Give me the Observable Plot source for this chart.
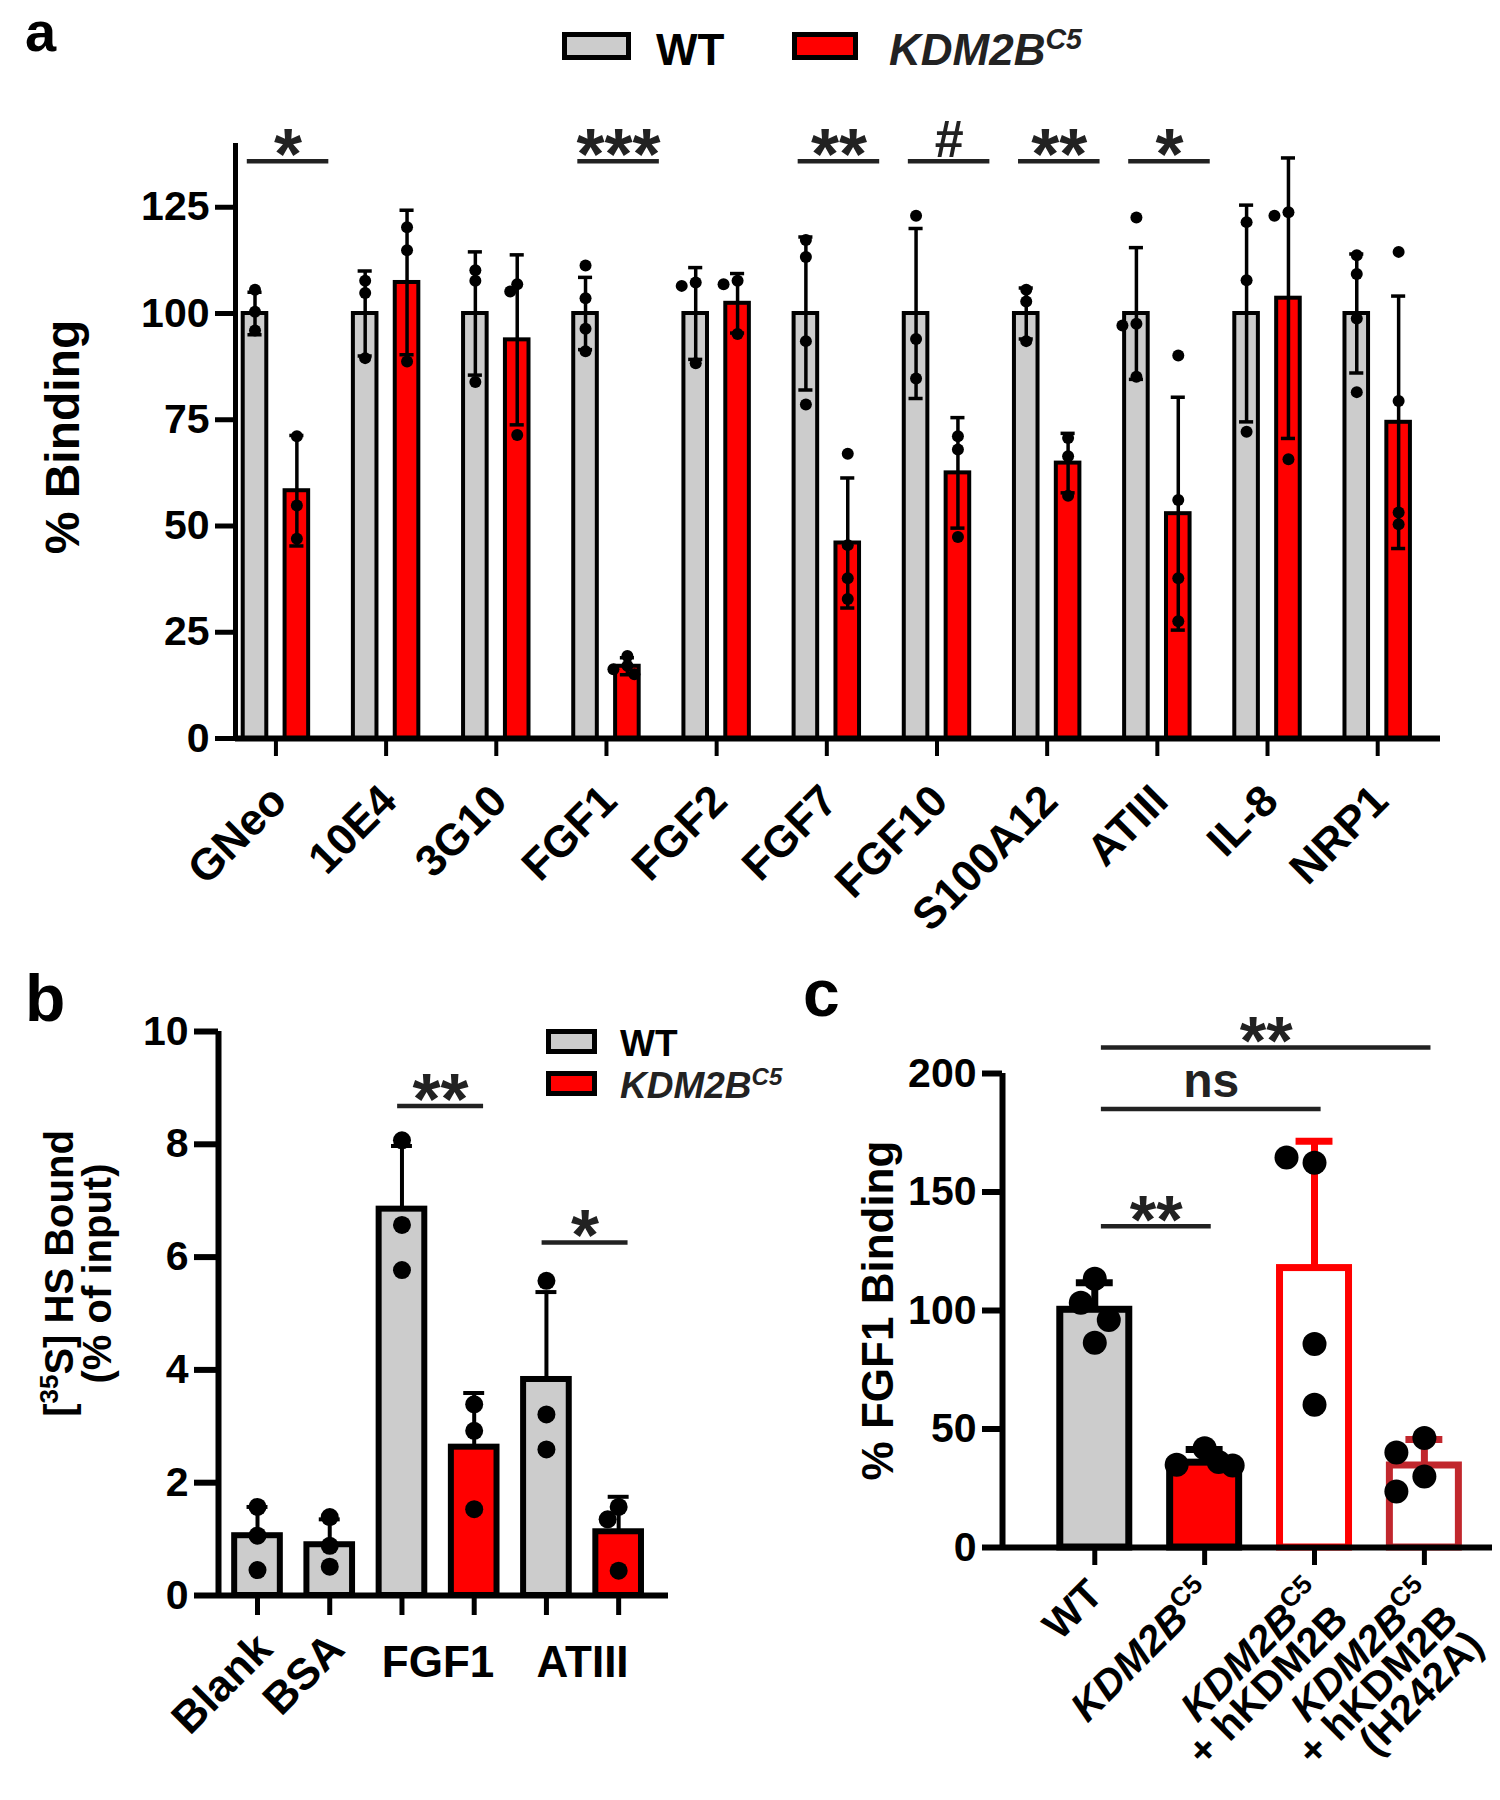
<!DOCTYPE html>
<html><head><meta charset="utf-8">
<script src="https://cdn.jsdelivr.net/npm/d3@7"></script>
<script src="https://cdn.jsdelivr.net/npm/@observablehq/plot@0.6"></script>
<style>
body{margin:0;background:#fff;}
#fig{position:relative;width:1500px;height:1800px;font-family:"Liberation Sans",Arial,Helvetica,sans-serif;font-weight:bold;color:#000;overflow:hidden;}
.abs{position:absolute;white-space:nowrap;}
.box{position:absolute;border:5px solid #000;}
sup{font-size:65%;vertical-align:0.55em;line-height:0;}
</style></head><body><div id="fig"></div>
<script>
// ---------------- DATA ----------------
// Panel a
const catsA = ["GNeo","10E4","3G10","FGF1","FGF2","FGF7","FGF10","S100A12","ATIII","IL-8","NRP1"];
const wtMeanA = [100,100,100,100,100,100,100,100,100,100,100];
const wtSdA   = [5,10,14.5,8.5,10.8,18,20,6,15.5,25.5,14];
const kdMeanA = [58.3,107.3,93.8,17,102.4,46,62.5,64.8,52.9,103.6,74.4];
const kdSdA   = [13,17,20,2,7,15.3,13,7,27.4,33,29.7];
const wtPtsA = [[105.6,100.4,96],[107.7,104.8,89.5],[110.2,107.7,83.9],[111.3,103.6,96.4,91.1],[107.3,106.5,88.3],
  [117.3,113.3,93.5,78.6],[123,94,84.7],[105.6,102.8,93.5],[122.6,97.6,97.2,85.1],[121.5,107.8,72.2],[113.7,109.3,98.8,81.5]];
const kdPtsA = [[71.1,54.8,47],[120.3,114.9,88.7],[106.9,105.2,71.4],[19.4,17.1,16.3,15.1],[107.7,106.9,95.2],
  [67,45.5,37.7,32.8],[71.1,68,47.4],[70.7,66.4,57.1],[90.1,56.1,37.7,27.6],[123.8,123,65.7],[114.5,79.4,53.2,50.4]];
const sigCatsA   = ["GNeo","FGF1","FGF7","FGF10","S100A12","ATIII"];
const sigLabelsA = ["*","***","**","#","**","*"];
const sigYA = 135.8;
const yTicksA = [0,25,50,75,100,125];

// Panel b
const barsB  = ["Blank","BSA","FGF1","FGF1","ATIII","ATIII"];
const groupB = ["WT","WT","WT","KDM2B","WT","KDM2B"];
const meanB  = [1.06,0.9,6.85,2.63,3.83,1.13];
const sdB    = [0.51,0.45,1.12,0.96,1.55,0.62];
const ptsB   = [[1.57,1.06,0.45],[1.39,0.88,0.51],[8.07,6.57,5.77],[3.39,2.92,1.53],[5.58,3.21,2.59],[1.57,1.35,0.44]];
const rotLabelsB  = ["Blank","BSA"];
const pairLabelsB = ["FGF1","ATIII"];
const sigFromB = [2,4], sigToB = [3,5], sigLabelB = ["**","*"], sigYB = [8.68,6.26];
const yTicksB = [0,2,4,6,8,10];

// Panel c
const groupsC = ["WT","_{KDM2B}^{C5}","_{KDM2B}^{C5}\n+ hKDM2B","_{KDM2B}^{C5}\n+ hKDM2B\n(H242A)"];
const meanC = [100.3,35.8,117.9,34.6];
const sdC   = [11.4,5.5,53.5,11];
const ptsC  = [[113.4,103.3,96,86.4],[41.9,34.9,34.6,36.1],[162.3,164.6,85.9,60.2],[46.2,40.1,30,23.6]];
const sigFromC = [0,0,0], sigToC = [1,2,3], sigLabelC = ["**","ns","**"], sigYC = [135.6,185,211];
const yTicksC = [0,50,100,150,200];

// palette
const GRAY = "#cccccc", RED = "#ff0000", DARKRED = "#c1272d";
const fillC = [GRAY, RED, "#ffffff", "#ffffff"];
const strokeC = ["#000000", "#000000", RED, DARKRED];

// ---------------- HELPERS ----------------
const FONT = '"Liberation Sans", Arial, Helvetica, sans-serif';
const fig = document.getElementById("fig");

function dodge(vals, py, r, step, k) {
  const placed = [], out = [];
  const cands = [0,-step,step,-2*step,2*step];
  vals.forEach(v => {
    const y = v * py;
    const minD = c => placed.length ? Math.min(...placed.map(p => Math.hypot(p.x - c, p.y - y))) : Infinity;
    let c0 = cands.find(c => minD(c) >= 2 * r * k);
    if (c0 === undefined) c0 = cands.reduce((a, b) => minD(b) > minD(a) ? b : a);
    placed.push({x: c0, y}); out.push(c0);
  });
  return out;
}
const NS = "http://www.w3.org/2000/svg";
function mk(s) { const t = document.createElementNS(NS, "tspan"); t.textContent = s; return t; }
function richify(svg) {
  const nodes = [...svg.querySelectorAll("text, tspan")].filter(n => n.children.length === 0 && /[\^_]\{/.test(n.textContent));
  for (const n of nodes) {
    const s = n.textContent; n.textContent = "";
    const re = /(\^\{[^}]*\}|_\{[^}]*\})/g; let last = 0, m;
    while ((m = re.exec(s))) {
      if (m.index > last) n.appendChild(mk(s.slice(last, m.index)));
      const t = mk(m[0].slice(2, -1));
      if (m[0][0] === "^") { t.setAttribute("baseline-shift", "super"); t.setAttribute("font-size", "65%"); }
      else t.setAttribute("font-style", "italic");
      n.appendChild(t); last = m.index + m[0].length;
    }
    if (last < s.length) n.appendChild(mk(s.slice(last)));
  }
}
function mount(el, left, top) { el.style.position = "absolute"; el.style.left = left + "px"; el.style.top = top + "px"; fig.appendChild(el); richify(el); }
const baseStyle = {fontFamily: FONT, fontWeight: "bold", background: "transparent", overflow: "visible", color: "#000"};

// ---------------- PANEL A ----------------
const A = {W:1500, H:950, ml:235, mr:60, mt:143, mb:212, x0:-0.367, x1:10.57, ymax:140};
const pxA = (A.W - A.ml - A.mr) / (A.x1 - A.x0), pyA = (A.H - A.mt - A.mb) / A.ymax;
const OFF_A = 0.19, HW_A = 0.107, CAP_A = 0.064;
const barsA = [];
catsA.forEach((c, i) => {
  barsA.push({i, x: i - OFF_A, mean: wtMeanA[i], sd: wtSdA[i], g: "WT", pts: wtPtsA[i]});
  barsA.push({i, x: i + OFF_A, mean: kdMeanA[i], sd: kdSdA[i], g: "KDM", pts: kdPtsA[i]});
});
const dotsA = [];
barsA.forEach(b => { const off = dodge(b.pts, pyA, 6, 7, 0.8); b.pts.forEach((v, k) => dotsA.push({x: b.x + off[k] / pxA, y: v})); });
const sigRowsA = sigCatsA.map((c, k) => ({i: catsA.indexOf(c), label: sigLabelsA[k], y: sigYA}));

const plotA = Plot.plot({
  width: A.W, height: A.H, marginLeft: A.ml, marginRight: A.mr, marginTop: A.mt, marginBottom: A.mb,
  x: {type: "linear", domain: [A.x0, A.x1]}, y: {domain: [0, A.ymax]},
  style: baseStyle,
  marks: [
    Plot.rectY(barsA.filter(d => d.g === "WT"), {x1: d => d.x - HW_A, x2: d => d.x + HW_A, y1: 0, y2: "mean", fill: GRAY, stroke: "#000", strokeWidth: 4}),
    Plot.rectY(barsA.filter(d => d.g === "KDM"), {x1: d => d.x - HW_A, x2: d => d.x + HW_A, y1: 0, y2: "mean", fill: RED, stroke: "#000", strokeWidth: 4}),
    Plot.ruleX(barsA, {x: "x", y1: d => d.mean - d.sd, y2: d => d.mean + d.sd, strokeWidth: 3.5}),
    Plot.ruleY(barsA, {y: d => d.mean + d.sd, x1: d => d.x - CAP_A, x2: d => d.x + CAP_A, strokeWidth: 3.5}),
    Plot.ruleY(barsA, {y: d => d.mean - d.sd, x1: d => d.x - CAP_A, x2: d => d.x + CAP_A, strokeWidth: 3.5}),
    Plot.dot(dotsA, {x: "x", y: "y", r: 6, fill: "#000", stroke: null}),
    Plot.ruleX([A.x0], {strokeWidth: 5}),
    Plot.ruleY([0], {strokeWidth: 6}),
    Plot.axisY({ticks: yTicksA, tickSize: 20, tickPadding: 6, strokeWidth: 5, fontSize: 41, label: null}),
    Plot.axisX({ticks: d3.range(catsA.length), tickSize: 18, strokeWidth: 4, tickFormat: () => "", label: null}),
    Plot.text(catsA, {x: (d, i) => i, y: 0, text: d => d, rotate: -45, textAnchor: "end", dx: 3, dy: 55, fontSize: 44}),
    Plot.text(["% Binding"], {frameAnchor: "left", textAnchor: "middle", rotate: -90, dx: -172, dy: -4, fontSize: 48}),
    Plot.ruleY(sigRowsA, {y: "y", x1: d => d.i - 0.26, x2: d => d.i + 0.48, strokeWidth: 4.5, stroke: "#222"}),
    Plot.text(sigRowsA.filter(d => d.label !== "#"), {x: d => d.i + 0.11, y: "y", text: "label", fontSize: 72, dy: -5, fill: "#222"}),
    Plot.text(sigRowsA.filter(d => d.label === "#"), {x: d => d.i + 0.11, y: "y", text: "label", fontSize: 52, dy: -21, fill: "#222"})
  ]
});
mount(plotA, 0, 0);

// ---------------- PANEL B ----------------
const B = {W:720, H:850, ml:218, mr:52, mt:81, mb:205, x0:-0.54, x1:5.69, ymax:10};
const pxB = (B.W - B.ml - B.mr) / (B.x1 - B.x0), pyB = (B.H - B.mt - B.mb) / B.ymax;
const HW_B = 0.316, CAP_B = 0.145;
const rowsB = barsB.map((c, i) => ({i, cat: c, g: groupB[i], mean: meanB[i], sd: sdB[i], pts: ptsB[i]}));
const dotsB = [];
rowsB.forEach(b => { const off = dodge(b.pts, pyB, 9, 11, 0.85); b.pts.forEach((v, k) => dotsB.push({x: b.i + off[k] / pxB, y: v})); });
const sigRowsB = sigLabelB.map((l, k) => ({x1: sigFromB[k] - 0.06, x2: sigToB[k] + 0.13, y: sigYB[k], label: l}));

const plotB = Plot.plot({
  width: B.W, height: B.H, marginLeft: B.ml, marginRight: B.mr, marginTop: B.mt, marginBottom: B.mb,
  x: {type: "linear", domain: [B.x0, B.x1]}, y: {domain: [0, B.ymax]},
  style: baseStyle,
  marks: [
    Plot.rectY(rowsB.filter(d => d.g === "WT"), {x1: d => d.i - HW_B, x2: d => d.i + HW_B, y1: 0, y2: "mean", fill: GRAY, stroke: "#000", strokeWidth: 6}),
    Plot.rectY(rowsB.filter(d => d.g !== "WT"), {x1: d => d.i - HW_B, x2: d => d.i + HW_B, y1: 0, y2: "mean", fill: RED, stroke: "#000", strokeWidth: 6}),
    Plot.ruleX(rowsB, {x: "i", y1: "mean", y2: d => d.mean + d.sd, strokeWidth: 4}),
    Plot.ruleY(rowsB, {y: d => d.mean + d.sd, x1: d => d.i - CAP_B, x2: d => d.i + CAP_B, strokeWidth: 4}),
    Plot.dot(dotsB, {x: "x", y: "y", r: 9, fill: "#000", stroke: null}),
    Plot.ruleX([B.x0], {strokeWidth: 6}),
    Plot.ruleY([0], {strokeWidth: 6}),
    Plot.axisY({ticks: yTicksB, tickSize: 24, tickPadding: 6, strokeWidth: 6, fontSize: 41, label: null}),
    Plot.axisX({ticks: d3.range(barsB.length), tickSize: 20, strokeWidth: 5, tickFormat: () => "", label: null}),
    Plot.text(rotLabelsB, {x: (d, i) => i, y: 0, text: d => d, rotate: -45, textAnchor: "end", dx: 7, dy: 46, fontSize: 44}),
    Plot.text(pairLabelsB, {x: (d, i) => 2.5 + 2 * i, y: 0, text: d => d, dy: 67, fontSize: 44}),
    Plot.text(["[^{35}S] HS Bound\n(% of input)"], {frameAnchor: "left", textAnchor: "middle", rotate: -90, dx: -139, dy: -40, fontSize: 40, lineHeight: 0.95}),
    Plot.ruleY(sigRowsB, {y: "y", x1: "x1", x2: "x2", strokeWidth: 4.5, stroke: "#222"}),
    Plot.text(sigRowsB, {x: d => (d.x1 + d.x2) / 2, y: "y", text: "label", fontSize: 72, dy: -5, fill: "#222"})
  ]
});
mount(plotB, 0, 950);

// ---------------- PANEL C ----------------
const C = {W:780, H:850, ml:282, mr:8, mt:123, mb:253, x0:-0.84, x1:3.62, ymax:200};
const pxC = (C.W - C.ml - C.mr) / (C.x1 - C.x0), pyC = (C.H - C.mt - C.mb) / C.ymax;
const HW_C = 0.314, CAP_C = 0.168;
const rowsC = groupsC.map((g, i) => ({i, label: g, mean: meanC[i], sd: sdC[i], pts: ptsC[i], fill: fillC[i], stroke: strokeC[i]}));
const dotsC = [];
rowsC.forEach(b => { const off = dodge(b.pts, pyC, 12, 14, 1.0); b.pts.forEach((v, k) => dotsC.push({x: b.i + off[k] / pxC, y: v})); });
const sigRowsC = sigLabelC.map((l, k) => ({x1: sigFromC[k] + 0.06, x2: sigToC[k] + 0.06, y: sigYC[k], label: l}));

const plotC = Plot.plot({
  width: C.W, height: C.H, marginLeft: C.ml, marginRight: C.mr, marginTop: C.mt, marginBottom: C.mb,
  x: {type: "linear", domain: [C.x0, C.x1]}, y: {domain: [0, C.ymax]},
  style: baseStyle,
  marks: [
    rowsC.map(r => [
      Plot.rectY([r], {x1: d => d.i - HW_C, x2: d => d.i + HW_C, y1: 0, y2: "mean", fill: r.fill, stroke: r.stroke, strokeWidth: 7}),
      Plot.ruleX([r], {x: "i", y1: "mean", y2: d => d.mean + d.sd, stroke: r.stroke, strokeWidth: 7}),
      Plot.ruleY([r], {y: d => d.mean + d.sd, x1: d => d.i - CAP_C, x2: d => d.i + CAP_C, stroke: r.stroke, strokeWidth: 7})
    ]),
    Plot.dot(dotsC, {x: "x", y: "y", r: 12, fill: "#000", stroke: null}),
    Plot.ruleX([C.x0], {strokeWidth: 6}),
    Plot.ruleY([0], {strokeWidth: 6}),
    Plot.axisY({ticks: yTicksC, tickSize: 20, tickPadding: 6, strokeWidth: 6, fontSize: 41, label: null}),
    Plot.axisX({ticks: d3.range(groupsC.length), tickSize: 18, strokeWidth: 5, tickFormat: () => "", label: null}),
    Plot.text(rowsC, {x: "i", y: 0, text: "label", rotate: -45, textAnchor: "end", lineAnchor: "top", dx: -8, dy: 31, fontSize: 41, lineHeight: 0.88}),
    Plot.text(["% FGF1 Binding"], {frameAnchor: "left", textAnchor: "middle", rotate: -90, dx: -124, fontSize: 44}),
    Plot.ruleY(sigRowsC, {y: "y", x1: "x1", x2: "x2", strokeWidth: 4.5, stroke: "#222"}),
    Plot.text(sigRowsC.filter(d => d.label !== "ns"), {x: d => (d.x1 + d.x2) / 2, y: "y", text: "label", fontSize: 68, dy: -5, fill: "#222"}),
    Plot.text(sigRowsC.filter(d => d.label === "ns"), {x: d => (d.x1 + d.x2) / 2, y: "y", text: "label", fontSize: 48, dy: -27, fill: "#222"})
  ]
});
mount(plotC, 720, 950);

// ---------------- LABELS & LEGENDS ----------------
function html(s) { const d = document.createElement("div"); d.innerHTML = s; while (d.firstChild) fig.appendChild(d.firstChild); }
html(`
<div class="abs" style="left:25px;top:4px;font-size:56px;line-height:56px;">a</div>
<div class="abs" style="left:25px;top:978px;font-size:66px;line-height:40px;">b</div>
<div class="abs" style="left:803px;top:973px;font-size:66px;line-height:40px;">c</div>

<div class="box" style="left:562px;top:32px;width:59px;height:18px;background:${GRAY};"></div>
<div class="abs" style="left:656px;top:28px;font-size:44px;line-height:44px;">WT</div>
<div class="box" style="left:792px;top:32px;width:56px;height:18px;background:${RED};"></div>
<div class="abs" style="left:889px;top:28px;font-size:44px;line-height:44px;font-style:italic;color:#222;">KDM2B<sup>C5</sup></div>

<div class="box" style="left:546px;top:1029px;width:41px;height:15px;background:${GRAY};"></div>
<div class="abs" style="left:620px;top:1025px;font-size:37px;line-height:37px;">WT</div>
<div class="box" style="left:546px;top:1071px;width:41px;height:15px;background:${RED};"></div>
<div class="abs" style="left:620px;top:1067px;font-size:37px;line-height:37px;font-style:italic;color:#222;">KDM2B<sup>C5</sup></div>
`);
</script>
</body></html>
